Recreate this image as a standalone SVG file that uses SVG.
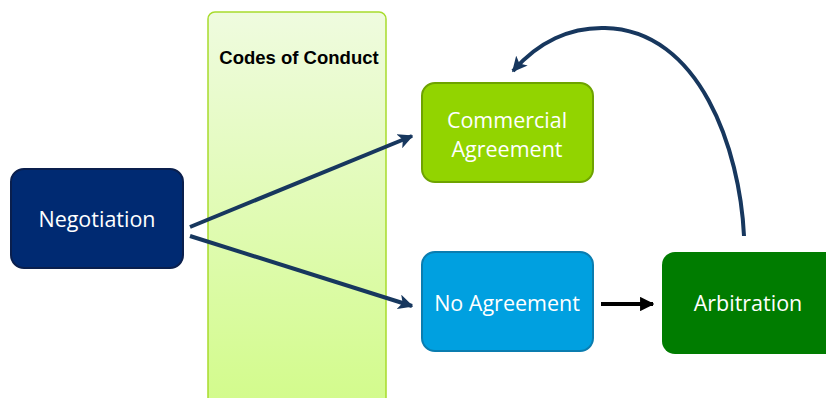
<svg xmlns="http://www.w3.org/2000/svg" width="826" height="398" viewBox="0 0 826 398">
<defs>
<linearGradient id="codeGrad" x1="0" y1="0" x2="0" y2="1">
<stop offset="0" stop-color="#effbdf"/>
<stop offset="1" stop-color="#d2fb8a"/>
</linearGradient>
<marker id="ahNavy" viewBox="0 0 10 10" refX="9" refY="5" markerWidth="3.8" markerHeight="3.8" markerUnits="strokeWidth" orient="auto">
<path d="M0,0 L10,5 L0,10 L2.5,5 Z" fill="#17375e"/>
</marker>
<marker id="ahBlack" viewBox="0 0 10 10" refX="9" refY="5" markerWidth="3.6" markerHeight="3.6" markerUnits="strokeWidth" orient="auto">
<path d="M0,0 L10,5 L0,10 Z" fill="#000"/>
</marker>
</defs>
<style>
.lbl{font-family:"Open Sans","Liberation Sans",sans-serif;font-size:21.5px;fill:#ffffff;text-anchor:middle}
.conn{fill:none;stroke:#17375e;stroke-width:4}
</style>
<rect width="826" height="398" fill="#ffffff"/>
<g id="codes">
<rect x="208" y="12" width="178" height="400" rx="7" fill="url(#codeGrad)" stroke="#a8dc2c" stroke-width="1.5"/>
<text x="299" y="64" font-family="'Liberation Sans',sans-serif" font-size="18.5" font-weight="bold" fill="#000" text-anchor="middle">Codes of Conduct</text>
</g>
<g id="connectors">
<line x1="190" y1="227" x2="412" y2="136" class="conn" marker-end="url(#ahNavy)"/>
<line x1="190" y1="236" x2="412" y2="306" class="conn" marker-end="url(#ahNavy)"/>
<line x1="601" y1="304" x2="653" y2="304" stroke="#000" stroke-width="4" marker-end="url(#ahBlack)"/>
<path d="M744,236 C740,150 700,30 605,28 C570,27 538,42 513,71" class="conn" stroke-width="4.5" marker-end="url(#ahNavy)"/>
</g>
<g id="negotiation">
<rect x="11" y="169" width="172" height="99" rx="13" fill="#002a72" stroke="#0a1f4d" stroke-width="2"/>
<text x="97" y="227" class="lbl">Negotiation</text>
</g>
<g id="commercial">
<rect x="422" y="83" width="171" height="99" rx="13" fill="#92d400" stroke="#6ea300" stroke-width="2"/>
<text x="507" y="128" class="lbl">Commercial</text>
<text x="507" y="157" class="lbl">Agreement</text>
</g>
<g id="noagreement">
<rect x="422" y="252" width="171" height="99" rx="13" fill="#00a0e0" stroke="#0a7db0" stroke-width="2"/>
<text x="507" y="311" class="lbl">No Agreement</text>
</g>
<g id="arbitration">
<rect x="662" y="252" width="180" height="102" rx="13" fill="#007c00"/>
<text x="748" y="311" class="lbl">Arbitration</text>
</g>
</svg>
